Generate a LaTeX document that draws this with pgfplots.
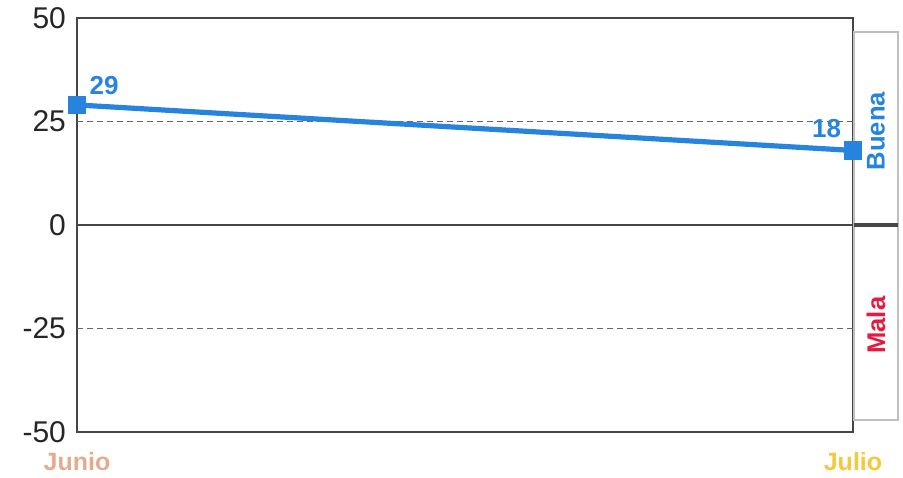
\documentclass[border=0pt]{standalone}
\usepackage{pgfplots}
\pgfplotsset{compat=1.18}
\usepackage{fontspec}
\setmainfont{Liberation Sans}

\definecolor{lineblue}{RGB}{38,132,222}
\definecolor{malared}{RGB}{232,24,64}
\definecolor{junio}{RGB}{228,172,140}
\definecolor{julio}{RGB}{246,200,60}
\definecolor{axisgray}{RGB}{70,70,70}
\definecolor{boxgray}{RGB}{190,190,195}

\begin{document}
\begin{tikzpicture}
% page frame (1 px of the reference = 0.5pt)
\path[use as bounding box] (-38.5pt,-22.5pt) rectangle (413pt,216pt);
\begin{axis}[
  scale only axis,
  width=388pt, height=207pt,
  xmin=0, xmax=1,
  ymin=-50, ymax=50,
  clip=false,
  axis line style={axisgray, line width=0.6pt},
  xtick={0,1},
  xticklabels={\textcolor{junio}{Junio},\textcolor{julio}{Julio}},
  xticklabel style={font=\bfseries\fontsize{12.5pt}{14pt}\selectfont, yshift=-6.5pt},
  ytick={-50,-25,0,25,50},
  yticklabels={-50,-25,0,25,50},
  yticklabel style={font=\fontsize{15pt}{17pt}\selectfont, text=black!85, xshift=-2pt},
  /pgf/number format/assume math mode=true,
  major tick length=0pt,
]
% reference lines
\addplot[gray!80!black, dash pattern=on 3pt off 2pt, line width=0.5pt, forget plot] coordinates {(0,25) (1,25)};
\addplot[gray!80!black, dash pattern=on 3pt off 2pt, line width=0.5pt, forget plot] coordinates {(0,-25) (1,-25)};
\addplot[axisgray, line width=0.6pt, forget plot] coordinates {(0,0) (1,0)};

% series
\addplot[lineblue, line width=2.6pt, mark=square*, mark size=3.3pt,
  mark options={solid, fill=lineblue, draw=lineblue}] coordinates {
  (0,29)
  (1,18)
};

% data labels
\node[lineblue, font=\bfseries\fontsize{13pt}{15pt}\selectfont] at (axis cs:0.035,33.8) {29};
\node[lineblue, font=\bfseries\fontsize{13pt}{15pt}\selectfont] at (axis cs:0.966,23.4) {18};

% side box
\draw[boxgray, line width=0.6pt] (axis cs:1.0013,46.6) rectangle (axis cs:1.058,-47.1);
\draw[axisgray, line width=1.6pt] (axis cs:1.0013,0) -- (axis cs:1.058,0);
\node[lineblue, rotate=90, font=\bfseries\fontsize{12.8pt}{14pt}\selectfont] at (axis cs:1.0295,22.7) {Buena};
\node[malared, rotate=90, font=\bfseries\fontsize{12.8pt}{14pt}\selectfont] at (axis cs:1.0295,-24.2) {Mala};
\end{axis}
\end{tikzpicture}
\end{document}
